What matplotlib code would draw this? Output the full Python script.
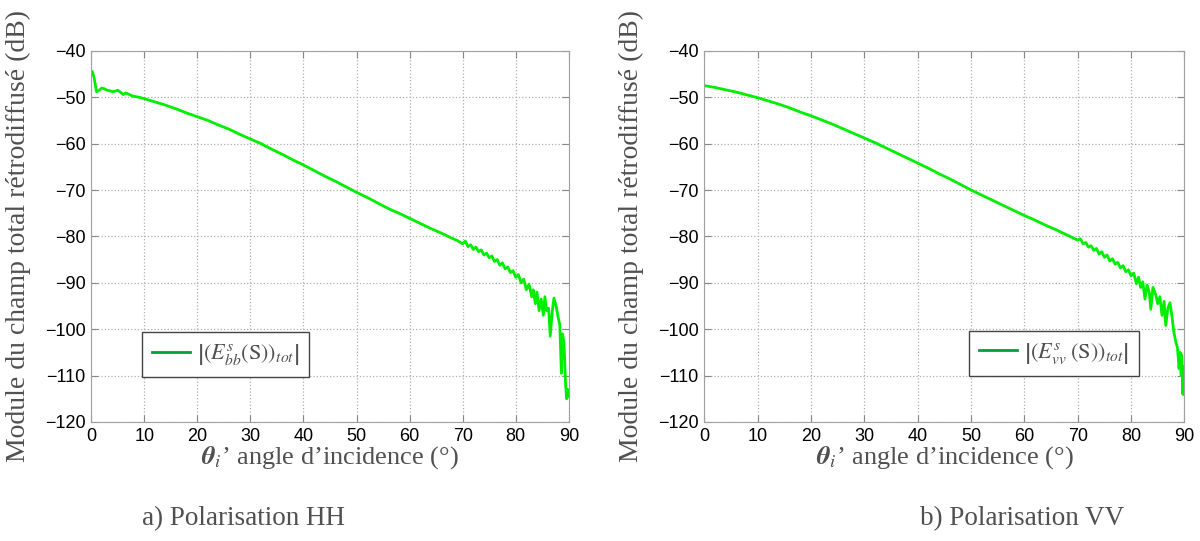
import numpy as np
import matplotlib
matplotlib.use("Agg")
import matplotlib.pyplot as plt
from matplotlib.lines import Line2D

# Incidence angles (deg) and backscattered total field (dB), HH polarisation
theta_hh = [0.2, 0.5, 1.0, 1.5, 2.0, 2.5, 3.0, 3.5, 4.0, 4.5, 5.0, 5.5, 6.0, 6.5, 7.0,
            7.5, 8.0, 9.0, 10, 12, 14, 16, 18, 20, 22, 24, 26, 28, 30, 32, 34, 36, 38,
            40, 42, 44, 46, 48, 50, 52, 54, 56, 58, 60, 62, 64, 66, 68, 69, 70,
            70.5, 71, 71.5, 72, 72.5, 73, 73.5, 74, 74.5, 75, 75.5, 76, 76.5, 77,
            77.5, 78, 78.5, 79, 79.5, 80, 80.5, 81, 81.5, 82, 82.5, 83, 83.3, 83.7,
            84, 84.4, 84.8, 85.2, 85.5, 85.8, 86.2, 86.5, 86.9, 87.2, 87.6, 88.0,
            88.3, 88.6, 88.8, 89.1, 89.4, 89.6, 89.8, 90]
e_hh = [-44.5, -45.5, -48.8, -48.5, -48.0, -48.2, -48.5, -48.6, -48.8, -48.7, -48.5,
        -48.9, -49.4, -49.1, -49.3, -49.6, -49.8, -50.0, -50.3, -51.0, -51.7, -52.5,
        -53.4, -54.2, -55.0, -56.0, -56.9, -58.0, -59.0, -60.0, -61.2, -62.3, -63.5,
        -64.6, -65.8, -67.0, -68.1, -69.3, -70.5, -71.6, -72.8, -74.0, -75.0, -76.1,
        -77.2, -78.3, -79.3, -80.4, -80.9, -81.6,
        -81.0, -82.2, -81.8, -82.8, -82.3, -83.3, -82.9, -84.0, -83.6, -84.6, -84.2,
        -85.4, -85.0, -86.2, -85.7, -87.0, -86.6, -87.8, -87.4, -88.8, -88.2, -90.0,
        -89.2, -91.5, -90.3, -93.0, -91.5, -94.5, -92.0, -96.0, -93.5, -97.0, -93.0,
        -96.0, -95.5, -101.5, -96.0, -93.3, -95.0, -97.5, -99.0, -109.5, -101.0,
        -103.0, -112.0, -115.0, -113.0, -114.5]

# VV polarisation
theta_vv = [0, 2, 4, 6, 8, 10, 12, 14, 16, 18, 20, 22, 24, 26, 28, 30, 32, 34, 36, 38,
            40, 42, 44, 46, 48, 50, 52, 54, 56, 58, 60, 62, 64, 66, 68, 70,
            70.5, 71, 71.5, 72, 72.5, 73, 73.5, 74, 74.5, 75, 75.5, 76, 76.5, 77,
            77.5, 78, 78.5, 79, 79.5, 80, 80.5, 81, 81.4, 81.8, 82.2, 82.6, 83.0,
            83.4, 83.7, 84.1, 84.6, 85.0, 85.4, 85.8, 86.2, 86.5, 86.9, 87.3, 87.7,
            88.0, 88.4, 88.7, 89.0, 89.2, 89.4, 89.5, 89.7, 89.9, 90]
e_vv = [-47.5, -47.9, -48.4, -48.9, -49.5, -50.1, -50.8, -51.5, -52.3, -53.2, -54.0,
        -54.9, -55.8, -56.8, -57.8, -58.8, -59.8, -60.9, -62.0, -63.1, -64.2, -65.3,
        -66.5, -67.6, -68.8, -70.0, -71.1, -72.2, -73.3, -74.4, -75.5, -76.5, -77.6,
        -78.6, -79.7, -80.8,
        -80.5, -81.6, -81.3, -82.3, -82.0, -83.0, -82.6, -83.8, -83.3, -84.5, -84.0,
        -85.3, -84.8, -86.0, -85.6, -86.8, -86.3, -87.6, -87.2, -88.5, -87.9, -90.2,
        -88.8, -91.0, -89.8, -93.5, -90.5, -92.0, -95.7, -91.0, -92.5, -94.5, -93.0,
        -97.0, -94.0, -99.2, -95.5, -94.3, -97.5, -100.5, -102.8, -104.0, -108.5,
        -105.0, -110.0, -105.5, -114.0, -108.0, -114.0]

legend_hh = r"$\left|\left(E^{s}_{bb}(\mathrm{S})\right)_{tot}\right|$"
legend_vv = r"$\left|\left(E^{s}_{vv}\;(\mathrm{S})\right)_{tot}\right|$"
captions = ["a) Polarisation HH", "b) Polarisation VV"]

plt.rcParams["mathtext.fontset"] = "stix"
serif = "Liberation Serif"
txt_col = "#505050"

fig = plt.figure(figsize=(12, 5.41), dpi=100)
ax1 = fig.add_axes([0.076, 0.220, 0.398, 0.686])
ax2 = fig.add_axes([0.587, 0.220, 0.400, 0.686])

panels = [(ax1, theta_hh, e_hh, legend_hh, (0.107, 0.12)),
          (ax2, theta_vv, e_vv, legend_vv, (0.552, 0.125))]

for ax, th, e, lab, anchor in panels:
    ax.plot(th, e, color="#00ee00", lw=2)
    ax.set_xlim(0, 90)
    ax.set_ylim(-120, -40)
    ax.set_xticks(np.arange(0, 91, 10))
    ax.set_yticks(np.arange(-120, -39, 10))
    ax.grid(True, ls=":", color="#b0b0b0", lw=0.9)
    ax.tick_params(direction="in", top=True, right=True, length=5,
                   color="#888888", labelsize=13, pad=4)
    for lbl in ax.get_xticklabels() + ax.get_yticklabels():
        lbl.set_family("Liberation Sans")
    for s in ax.spines.values():
        s.set_color("#a0a0a0")
    ax.set_ylabel("Module du champ total rétrodiffusé (dB)", family=serif,
                  fontsize=20, color=txt_col)
    ax.yaxis.set_label_coords(-0.125, 0.5)
    ax.set_xlabel(r"$\mathbfit{\theta}_{i}$’ angle d’incidence (°)", family=serif,
                  fontsize=19, color=txt_col, labelpad=0)
    handle = Line2D([], [], color="#00a040", lw=2)
    leg = ax.legend([handle], [lab], loc="lower left", bbox_to_anchor=anchor,
                    borderaxespad=0, fancybox=False, framealpha=1,
                    edgecolor="#444444", fontsize=16, handlelength=1.7,
                    handletextpad=0.3, borderpad=0.45)
    leg.get_frame().set_linewidth(1.0)
    for t in leg.get_texts():
        t.set_color(txt_col)

fig.text(0.203, 0.03, captions[0], family=serif, fontsize=19.5, color=txt_col, ha="center")
fig.text(0.852, 0.03, captions[1], family=serif, fontsize=19.5, color=txt_col, ha="center")

fig.savefig("out.png", dpi=100, facecolor="white")
